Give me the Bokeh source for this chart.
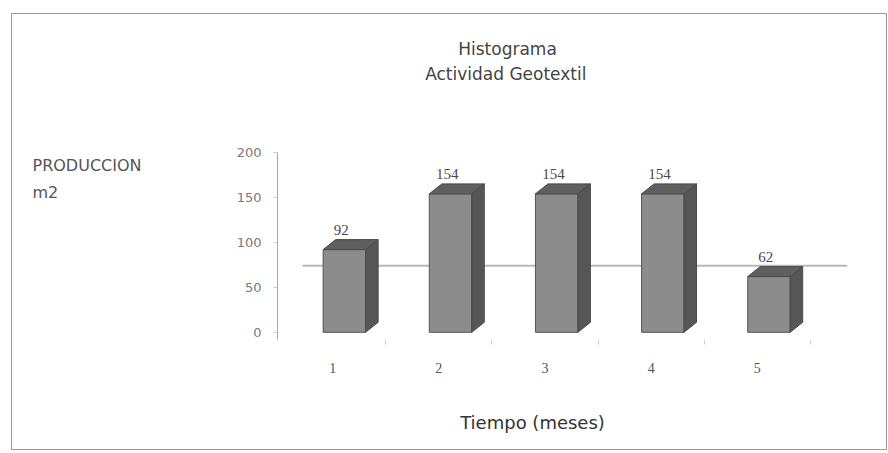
from bokeh.plotting import figure
from bokeh.layouts import row, column
from bokeh.models import Range1d, FixedTicker
from bokeh.embed import file_html
from bokeh.resources import INLINE
from bokeh.core.properties import value

# ---- data ----
months = [1, 2, 3, 4, 5]
month_labels = ["1", "2", "3", "4", "5"]
production = [92, 154, 154, 154, 62]
y_ticks = [0, 50, 100, 150, 200]
title_lines = ["Histograma", "Actividad  Geotextil"]
y_title_lines = ["PRODUCCION", "m2"]
x_title = "Tiempo (meses)"
ref_line_value = 74

# ---- layout (page pixels) ----
ORIG_X, ORIG_Y = 12, 14          # content origin inside the border
TOTAL_W, H = 874, 435
H1 = 380                          # height of the chart row
H2 = H - H1                       # strip holding the x title
LW = 200                          # left text strip
MW = TOTAL_W - LW
F_LEFT, F_RIGHT, F_BOTTOM = 277, 847, 339   # frame edges (page px)
X0, X1 = 0.48, 5.85
Y0 = -8
PPU = 187 / 208                   # px per production unit
PPX = (F_RIGHT - F_LEFT) / (X1 - X0)
FB = F_BOTTOM - ORIG_Y            # frame bottom in canvas px (frame top = 0)
Y1 = Y0 + FB / PPU

def px_to_x(px):
    return X0 + (px - F_LEFT) / PPX

def py_to_y(py):
    return Y0 + (F_BOTTOM - py) / PPU

def text_strip(width, height, fb):
    f = figure(width=width, height=height, output_backend="svg", toolbar_location=None,
               x_range=Range1d(0, width), y_range=Range1d(fb, 0),
               min_border_left=0, min_border_right=0, min_border_top=0,
               min_border_bottom=height - fb,
               x_axis_location=None, y_axis_location=None)
    f.grid.visible = False
    f.outline_line_color = None
    return f

# ---- left strip with the y title ----
left = text_strip(LW, H1, FB)
left.text(x=[32 - ORIG_X] * 2, y=[165 - ORIG_Y, 192 - ORIG_Y], text=y_title_lines,
          text_align="left", text_baseline="middle", text_font=value("DejaVu Sans"),
          text_font_size="16px", text_color="#555555")

# ---- bottom strip with the x title ----
bottom = text_strip(TOTAL_W, H2, H2)
bottom.text(x=[532 - ORIG_X], y=[422 - ORIG_Y - H1], text=[x_title],
            text_align="center", text_baseline="middle", text_font=value("DejaVu Sans"),
            text_font_size="18px", text_color="#333333")

# ---- main chart ----
p = figure(width=MW, height=H1, output_backend="svg", toolbar_location=None,
           x_range=Range1d(X0, X1), y_range=Range1d(Y0, Y1),
           min_border_left=F_LEFT - ORIG_X - LW, min_border_right=MW - (F_RIGHT - ORIG_X - LW),
           min_border_top=0, min_border_bottom=H1 - FB)
p.outline_line_color = None
p.xgrid.visible = False
p.ygrid.visible = False

# reference line behind the bars
p.segment(x0=[px_to_x(302)], y0=[ref_line_value], x1=[X1], y1=[ref_line_value],
          line_color="#b8b8b8", line_width=2)

# 3D bars
off, hw, dx, dy = 0.11, 0.2, 0.118, 11.1
front_x = [m + off for m in months]
p.vbar(x=front_x, top=production, bottom=0, width=2 * hw,
       fill_color="#8c8c8c", line_color="#555555", line_width=1)
top_xs = [[m + off - hw, m + off + hw, m + off + hw + dx, m + off - hw + dx] for m in months]
top_ys = [[v, v, v + dy, v + dy] for v in production]
p.patches(top_xs, top_ys, fill_color="#5f5f5f", line_color="#4a4a4a", line_width=1)
side_xs = [[m + off + hw, m + off + hw + dx, m + off + hw + dx, m + off + hw] for m in months]
side_ys = [[0, dy, v + dy, v] for v in production]
p.patches(side_xs, side_ys, fill_color="#565656", line_color="#4a4a4a", line_width=1)

# value labels
p.text(x=[m + off - 0.03 for m in months], y=[v + dy for v in production],
       text=[str(v) for v in production], text_align="center", text_baseline="bottom",
       y_offset=-5, text_font=value("Liberation Serif"), text_font_size="15px",
       text_color="#4a4a4a")

# chart title (inside the upper part of the frame)
p.text(x=[px_to_x(507), px_to_x(508)], y=[py_to_y(48), py_to_y(73)], text=title_lines,
       text_align="center", text_baseline="middle", text_font=value("DejaVu Sans"),
       text_font_size="17px", text_color="#444444")

# axes
p.yaxis.ticker = FixedTicker(ticks=y_ticks)
p.yaxis.bounds = (Y0, 200)
p.yaxis.axis_line_color = "#a8a8a8"
p.yaxis.major_tick_line_color = "#c8c8c8"
p.yaxis.major_tick_out = 4
p.yaxis.major_tick_in = 0
p.yaxis.minor_tick_line_color = None
p.yaxis.major_label_standoff = 12
p.yaxis.major_label_text_font = "DejaVu Sans"
p.yaxis.major_label_text_font_size = "13px"
p.yaxis.major_label_text_color = "#7a7a7a"

p.xaxis.ticker = FixedTicker(ticks=months, minor_ticks=[1.5, 2.5, 3.5, 4.5, 5.5])
p.xaxis.major_label_overrides = {m: s for m, s in zip(months, month_labels)}
p.xaxis.axis_line_color = None
p.xaxis.major_tick_line_color = None
p.xaxis.major_tick_out = 0
p.xaxis.major_tick_in = 0
p.xaxis.minor_tick_line_color = "#cfcfcf"
p.xaxis.minor_tick_out = 5
p.xaxis.minor_tick_in = 0
p.xaxis.major_label_standoff = 18
p.xaxis.major_label_text_font = "Liberation Serif"
p.xaxis.major_label_text_font_size = "14px"
p.xaxis.major_label_text_color = "#555555"

layout = column(row(left, p), bottom)
layout.margin = (13, 0, 0, 11)
layout.styles = {"border": "1px solid #9a9a9a"}

open("out.html", "w").write(file_html(layout, INLINE))
